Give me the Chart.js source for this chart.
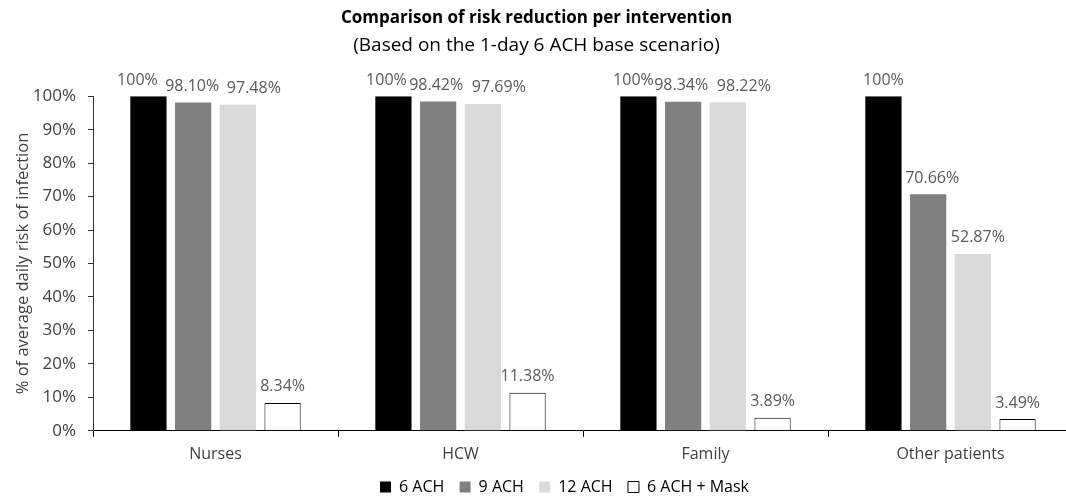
<!DOCTYPE html>
<html>
<head>
<meta charset="utf-8">
<script src="https://cdn.jsdelivr.net/npm/chart.js@4/dist/chart.umd.min.js"></script>
<style>
  html, body { margin: 0; padding: 0; overflow: hidden; background: #fff; }
  #wrap { width: 1076px; height: 501px; }
</style>
</head>
<body>
<div id="wrap"><canvas id="riskChart"></canvas></div>
<script>
'use strict';

// data
var categories = ['Nurses', 'HCW', 'Family', 'Other patients'];
var seriesNames = ['6 ACH', '9 ACH', '12 ACH', '6 ACH + Mask'];
var ach6 = [100, 100, 100, 100];
var ach9 = [98.10, 98.42, 98.34, 70.66];
var ach12 = [97.48, 97.69, 98.22, 52.87];
var ach6Mask = [8.34, 11.38, 3.89, 3.49];
var yTicks = [0, 10, 20, 30, 40, 50, 60, 70, 80, 90, 100];

var FONT = '"Open Sans", "DejaVu Sans", sans-serif';

function fmtPct(v) {
  return v === 100 ? '100%' : v.toFixed(2) + '%';
}

// value labels above each bar (the original has a few nudged sideways)
var barLabels = {
  id: 'barLabels',
  afterDatasetsDraw: function (chart, args, opts) {
    var ctx = chart.ctx;
    ctx.save();
    ctx.font = '16px ' + FONT;
    ctx.fillStyle = '#595959';
    ctx.textAlign = 'center';
    ctx.textBaseline = 'middle';
    chart.data.datasets.forEach(function (ds, i) {
      var meta = chart.getDatasetMeta(i);
      meta.data.forEach(function (bar, j) {
        var dx = (opts.nudge[j] || [])[i] || 0;
        ctx.fillText(fmtPct(ds.data[j]), bar.x + dx, bar.y - 16);
      });
    });
    ctx.restore();
  }
};

// legend sits a bit right of centre in the original
var legendShift = {
  id: 'legendShift',
  afterLayout: function (chart) {
    chart.legend.left += 28;
    chart.legend.right += 28;
  }
};

var ctx = document.getElementById('riskChart').getContext('2d');
var chart = new Chart(ctx, {
  type: 'bar',
  data: {
    labels: categories,
    datasets: [
      { label: seriesNames[0], data: ach6, backgroundColor: '#000000', borderWidth: 0 },
      { label: seriesNames[1], data: ach9, backgroundColor: '#808080', borderWidth: 0 },
      { label: seriesNames[2], data: ach12, backgroundColor: '#d9d9d9', borderWidth: 0 },
      { label: seriesNames[3], data: ach6Mask, backgroundColor: '#ffffff', borderColor: '#000000', borderWidth: 1 }
    ]
  },
  options: {
    responsive: true,
    maintainAspectRatio: false,
    animation: false,
    categoryPercentage: 0.73,
    barPercentage: 0.81,
    layout: { padding: { left: 0, right: 3, top: 0, bottom: -4 } },
    plugins: {
      barLabels: {
        nudge: [[-11, -1, 16, 0], [-7, -2, 16, 0], [-5, -2, 16, 0], [0, 4, 5, 0]]
      },
      title: {
        display: true,
        text: 'Comparison of risk reduction per intervention',
        color: '#000',
        font: { family: FONT, size: 17, weight: 'bold' },
        padding: { top: 8, bottom: 6 }
      },
      subtitle: {
        display: true,
        text: '(Based on the 1-day 6 ACH base scenario)',
        color: '#000',
        font: { family: FONT, size: 19 },
        padding: { top: 0, bottom: 39 }
      },
      legend: {
        position: 'bottom',
        labels: {
          boxWidth: 11,
          boxHeight: 11,
          padding: 7,
          color: '#000',
          font: { family: FONT, size: 16 },
          // small padding keeps the legend short; trailing spaces keep the gaps
          generateLabels: function (chart) {
            var items = Chart.defaults.plugins.legend.labels.generateLabels(chart);
            items.forEach(function (it, k) {
              if (k < items.length - 1) it.text += '  ';
            });
            return items;
          }
        }
      },
      tooltip: { enabled: false }
    },
    scales: {
      x: {
        grid: { display: true, drawOnChartArea: false, tickLength: 6, color: '#000' },
        border: { color: '#000' },
        ticks: { color: '#404040', padding: 8, font: { family: FONT, size: 16 } }
      },
      y: {
        min: 0,
        max: 100,
        afterBuildTicks: function (scale) {
          scale.ticks = yTicks.map(function (v) { return { value: v }; });
        },
        afterFit: function (scale) { scale.width = 93; },
        grid: { display: true, drawOnChartArea: false, tickLength: 5, color: '#333' },
        border: { color: '#333' },
        ticks: {
          color: '#404040',
          padding: 12,
          font: { family: FONT, size: 17 },
          callback: function (v) { return v + '%'; }
        },
        title: {
          display: true,
          text: '% of average daily risk of infection',
          color: '#404040',
          font: { family: FONT, size: 16.5 },
          padding: { top: 13, bottom: 0 }
        }
      }
    }
  },
  plugins: [barLabels, legendShift]
});
</script>
</body>
</html>
